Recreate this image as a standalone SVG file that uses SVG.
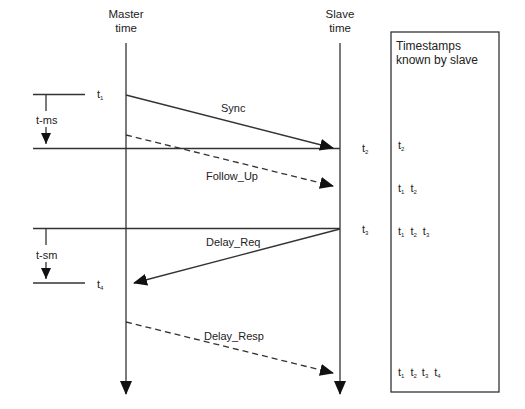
<svg xmlns="http://www.w3.org/2000/svg" width="525" height="409" viewBox="0 0 525 409">
<style>
text{font-family:"Liberation Sans",Arial,sans-serif;fill:#222;}
.t{font-size:11.5px;}
.b{font-size:12px;}
.s{font-size:11px;}
.sub{font-size:6px;}
.ln{stroke:#333;stroke-width:1.3;fill:none;}
.dash{stroke:#333;stroke-width:1.3;fill:none;stroke-dasharray:6,4;}
</style>
<defs>
<marker id="ah" markerWidth="14" markerHeight="12" refX="13" refY="6" orient="auto" markerUnits="userSpaceOnUse">
<path d="M0,0 L14,6 L0,12 z" fill="#111"/>
</marker>
<marker id="sa" markerWidth="12" markerHeight="10" refX="11" refY="5" orient="auto" markerUnits="userSpaceOnUse">
<path d="M0,0 L11,5 L0,10 z" fill="#111"/>
</marker>
</defs>
<g id="master">
<text class="t" text-anchor="middle"><tspan x="126" y="18">Master</tspan><tspan x="126" y="31.5">time</tspan></text>
<line class="ln" x1="126" y1="43" x2="126" y2="394" marker-end="url(#ah)"/>
</g>
<g id="slave">
<text class="t" text-anchor="middle"><tspan x="340" y="18">Slave</tspan><tspan x="340" y="31.5">time</tspan></text>
<line class="ln" x1="340" y1="43" x2="340" y2="394" marker-end="url(#ah)"/>
</g>
<g id="timestamps">
<rect x="391" y="32" width="108" height="360" fill="none" stroke="#333" stroke-width="1.3"/>
<text class="b"><tspan x="396" y="50">Timestamps</tspan><tspan x="396" y="64">known by slave</tspan></text>
<text class="s" x="398" y="149">t<tspan class="sub" dy="2">2</tspan></text>
<text class="s" x="398" y="192">t<tspan class="sub" dy="2">1</tspan><tspan dx="6" dy="-2">t</tspan><tspan class="sub" dy="2">2</tspan></text>
<text class="s" x="398" y="235">t<tspan class="sub" dy="2">1</tspan><tspan dx="6" dy="-2">t</tspan><tspan class="sub" dy="2">2</tspan><tspan dx="6" dy="-2">t</tspan><tspan class="sub" dy="2">3</tspan></text>
<text class="s" x="398" y="376">t<tspan class="sub" dy="2">1</tspan><tspan dx="6" dy="-2">t</tspan><tspan class="sub" dy="2">2</tspan><tspan dx="5" dy="-2">t</tspan><tspan class="sub" dy="2">3</tspan><tspan dx="6" dy="-2">t</tspan><tspan class="sub" dy="2">4</tspan></text>
</g>
<g id="t-ms">
<line class="ln" x1="33" y1="94.5" x2="85" y2="94.5"/>
<line class="ln" x1="46" y1="94.5" x2="46" y2="111"/>
<text class="s" x="36" y="124">t-ms</text>
<line class="ln" x1="46" y1="127" x2="46" y2="144" marker-end="url(#sa)"/>
<text class="s" x="97" y="98">t<tspan class="sub" dy="2">1</tspan></text>
<line class="ln" x1="33" y1="148.5" x2="340" y2="148.5"/>
<text class="s" x="362" y="152">t<tspan class="sub" dy="2">2</tspan></text>
</g>
<g id="t-sm">
<line class="ln" x1="33" y1="228.5" x2="340" y2="228.5"/>
<line class="ln" x1="46" y1="228.5" x2="46" y2="245"/>
<text class="s" x="36" y="259">t-sm</text>
<line class="ln" x1="46" y1="262" x2="46" y2="279" marker-end="url(#sa)"/>
<line class="ln" x1="33" y1="283" x2="85" y2="283"/>
<text class="s" x="97" y="288">t<tspan class="sub" dy="2">4</tspan></text>
<text class="s" x="362" y="233">t<tspan class="sub" dy="2">3</tspan></text>
</g>
<g id="connectors">
<line class="ln" x1="126" y1="95" x2="333" y2="148" marker-end="url(#ah)"/>
<text class="s" x="221" y="112">Sync</text>
<line class="dash" x1="126" y1="135" x2="333" y2="186" marker-end="url(#ah)"/>
<text class="s" x="206" y="180">Follow_Up</text>
<line class="ln" x1="340" y1="229" x2="134" y2="283" marker-end="url(#ah)"/>
<text class="s" x="206" y="246">Delay_Req</text>
<line class="dash" x1="126" y1="322" x2="333" y2="373" marker-end="url(#ah)"/>
<text class="s" x="204" y="340">Delay_Resp</text>
</g>
</svg>
